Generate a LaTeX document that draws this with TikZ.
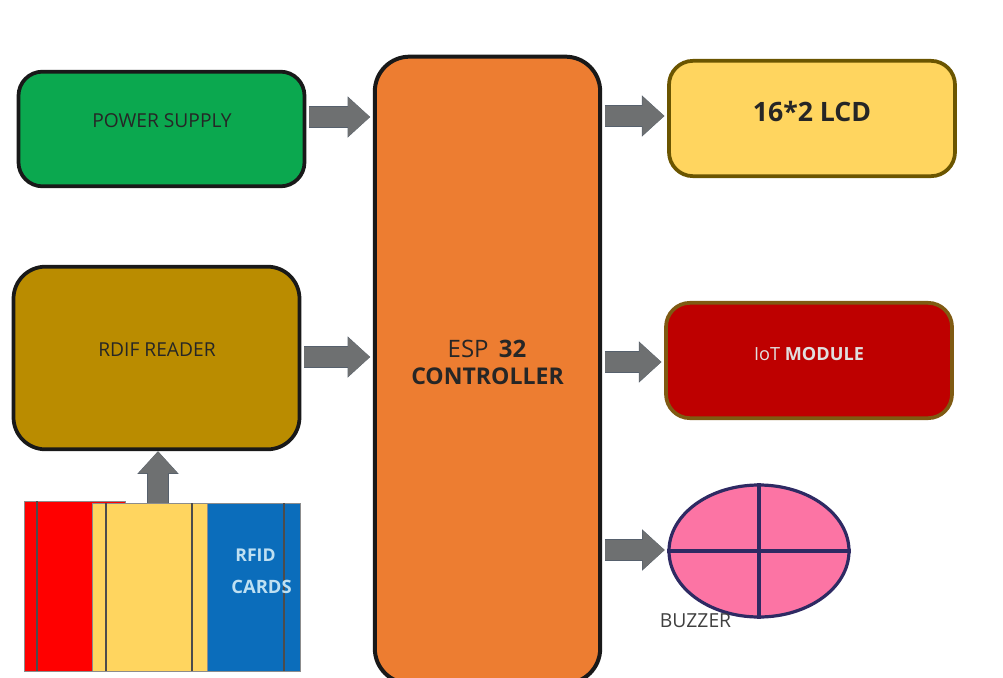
\documentclass[tikz,border=0pt]{standalone}
\usepackage{fontspec}
\setmainfont{Open Sans}
\usetikzlibrary{arrows.meta,positioning,shapes.geometric}
\definecolor{PowerGreen}{HTML}{0BA84F}
\definecolor{ReaderGold}{HTML}{BA8C00}
\definecolor{EspOrange}{HTML}{ED7D31}
\definecolor{LcdYellow}{HTML}{FFD55F}
\definecolor{LcdEdge}{HTML}{6B5500}
\definecolor{IotRed}{HTML}{BE0000}
\definecolor{IotEdge}{HTML}{7F5A12}
\definecolor{CardRed}{HTML}{FF0000}
\definecolor{CardBlue}{HTML}{0B6DBB}
\definecolor{CardText}{HTML}{BFE0F2}
\definecolor{BuzzPink}{HTML}{FC74A4}
\definecolor{BuzzEdge}{HTML}{2E2A63}
\definecolor{ArrowGray}{HTML}{6E7071}
\definecolor{ArrowEdge}{HTML}{56606C}
\tikzset{
  block/.style={draw=black!90, line width=2.8pt, rounded corners=18pt, inner sep=0pt},
  label/.style={inner sep=0pt, text=black!85, font=\fontsize{#1}{20}\selectfont},
  boldlabel/.style={inner sep=0pt, text=black!85, font=\fontsize{#1}{20}\bfseries\selectfont},
  card/.style={draw=black!45, line width=0.7pt, inner sep=0pt},
  cardline/.style={draw=black!70, line width=1.5pt},
  blockarrow/.style={line width=14.5pt, draw=ArrowGray, shorten <=2pt, shorten >=2pt,
    -{Triangle[length=16.5pt,width=28pt,fill=ArrowGray,color=ArrowGray]},
    preaction={draw=ArrowEdge, line width=16pt, -{Triangle[length=17pt,width=30pt,fill=ArrowEdge,color=ArrowEdge]}}},
}

\begin{document}
\begin{tikzpicture}[x=0.75pt, y=-0.75pt]
\useasboundingbox (0,0) rectangle (1003,678);

% Input blocks
\node[block, fill=PowerGreen, minimum width=214.5pt, minimum height=86pt] (psu) at (161.5,129) {};
\node[label=14.4] (psulabel) at (162,121) {POWER SUPPLY};
\node[block, fill=ReaderGold, minimum width=214.5pt, minimum height=137pt, rounded corners=24pt] (reader) at (156.5,358) {};
\node[label=14.4] (readerlabel) at (157,350) {RDIF READER};

% Controller - runs off the bottom of the page
\node[block, line width=3pt, fill=EspOrange, minimum width=169pt, minimum height=470pt, rounded corners=26pt] (esp) at (487.5,370) {};
\node[label=18] (esplabel) at (487,349) {ESP\, \textbf{32}};
\node[boldlabel=17.3] (esplabelb) at (487.5,376) {CONTROLLER};

% Output blocks
\node[block, draw=LcdEdge, fill=LcdYellow, minimum width=214.5pt, minimum height=86.5pt] (lcd) at (812,118.5) {};
\node[boldlabel=20] (lcdlabel) at (812,111) {16*2 LCD};
\node[block, draw=IotEdge, fill=IotRed, minimum width=214.5pt, minimum height=86.5pt] (iot) at (809,360.5) {};
\node[label=13.6, text=white!88!black] (iotlabel) at (809,354) {IoT \textbf{MODULE}};

% Buzzer
\node[ellipse, draw=BuzzEdge, fill=BuzzPink, line width=2.4pt, minimum width=135pt, minimum height=99pt, inner sep=0pt] (buzzer) at (759,551) {};
\draw[BuzzEdge, line width=2.6pt] (buzzer.north) -- (buzzer.south);
\draw[BuzzEdge, line width=2.6pt] (buzzer.west) -- (buzzer.east);
\node[label=14.5, text=black!75] (buzzerlabel) at (695.5,621) {BUZZER};

% RFID cards, yellow one lies on top
\node[card, fill=CardRed, anchor=north west, minimum width=75.5pt, minimum height=127.5pt] (redcard) at (24,501) {};
\node[card, fill=CardBlue, anchor=north west, minimum width=81pt, minimum height=126pt] (bluecard) at (192,503) {};
\node[card, fill=LcdYellow, anchor=north west, minimum width=86pt, minimum height=126pt] (yellowcard) at (92,503) {};
\draw[cardline] (37,501) -- (37,671);
\draw[cardline] (284,503) -- (284,671);
\foreach \xpos in {106,192}
{
  \draw[cardline] (\xpos,503) -- (\xpos,671);
}
\node[boldlabel=13.2, text=CardText] (rfidtext) at (255.5,555) {RFID};
\node[boldlabel=13.8, text=CardText] (cardstext) at (261.5,587) {CARDS};

% Block arrows
\draw[blockarrow] (psu.east |- 0,117) -- (esp.west |- 0,117);
\draw[blockarrow] (reader.east |- 0,357) -- (esp.west |- 0,357);
\draw[blockarrow] (esp.east |- 0,116) -- (lcd.west |- 0,116);
\draw[blockarrow] (esp.east |- 0,362) -- (iot.west |- 0,362);
\draw[blockarrow] (esp.east |- 0,550) -- (buzzer.west |- 0,550);
\draw[blockarrow, shorten <=0pt, shorten >=0pt] (yellowcard.north -| 158,0) -- (reader.south -| 158,0);
\end{tikzpicture}
\end{document}
